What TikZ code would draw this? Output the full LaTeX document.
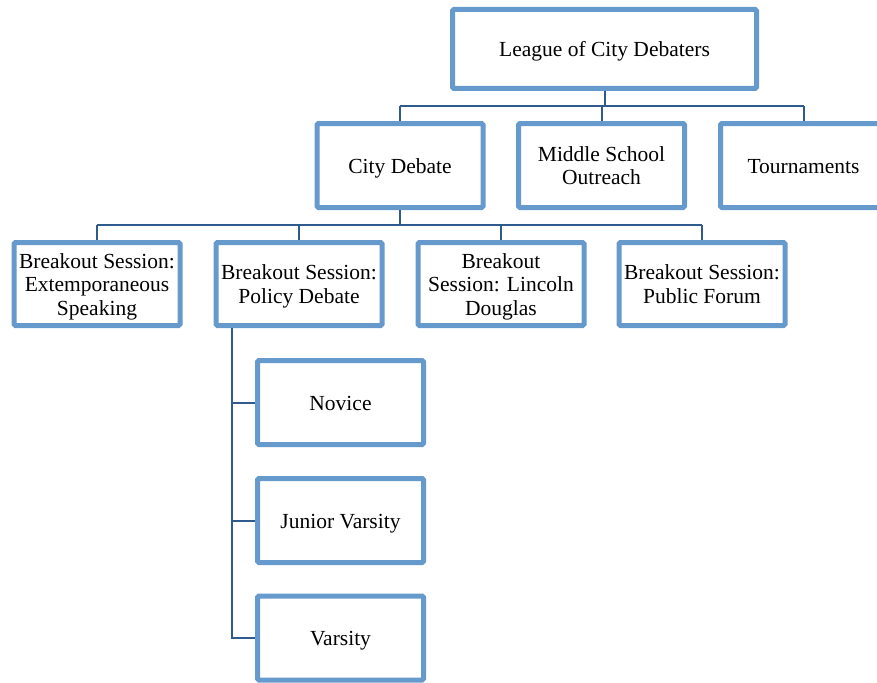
\documentclass[tikz,border=0pt]{standalone}
\usepackage{fontspec}
\setmainfont{Liberation Serif}
\newcommand{\boxtext}[1]{\raisebox{-3pt}[\height][\depth]{\begin{tabular}{@{}c@{}}#1\end{tabular}}}
\begin{document}
\begin{tikzpicture}[x=1pt,y=-1pt,
  box/.style={draw=boxblue,line width=5pt,fill=white,rounded corners=1.5pt,
    minimum width=166pt,minimum height=84pt,inner sep=0pt,
    font=\fontsize{21.5}{23.5}\selectfont},
  link/.style={draw=lineblue,line width=2pt}]
\definecolor{boxblue}{HTML}{6699CC}
\definecolor{lineblue}{HTML}{2E5A8C}
\useasboundingbox (0,0) rectangle (877,682);
\begin{scope}
\clip (0,0) rectangle (877,682);
% top
\node[box,minimum width=304pt,minimum height=79pt] (top) at (604.5,49) {\boxtext{League of City Debaters}};
% row 2
\node[box] (city) at (400,165.5) {\boxtext{City Debate}};
\node[box] (mso) at (601.5,165.5) {\boxtext{Middle School\\Outreach}};
\node[box] (tour) at (803.5,165.5) {\boxtext{Tournaments}};
% row 3
\node[box,minimum height=83pt] (ext) at (97,284) {\boxtext{Breakout Session:\\Extemporaneous\\Speaking}};
\node[box,minimum height=83pt] (pol) at (299,284) {\boxtext{Breakout Session:\\Policy Debate}};
\node[box,minimum height=83pt] (lin) at (501,284) {\boxtext{Breakout\\Session: Lincoln\\Douglas}};
\node[box,minimum height=83pt] (pub) at (702,284) {\boxtext{Breakout Session:\\Public Forum}};
% row 4
\node[box] (nov) at (340.5,402.5) {\boxtext{Novice}};
\node[box] (jv) at (340.5,520.5) {\boxtext{Junior Varsity}};
\node[box] (var) at (340.5,638) {\boxtext{Varsity}};
\coordinate (b1) at (604.5,106.5);
\coordinate (b2) at (400,225);
\coordinate (v) at (232,0);
\path[link] (top.south) -- (b1);
\path[link] (b1 -| city.north) -- (b1 -| tour.north);
\path[link] (b1 -| city.north) -- (city.north);
\path[link] (b1 -| mso.north) -- (mso.north);
\path[link] (b1 -| tour.north) -- (tour.north);
\path[link] (city.south) -- (b2);
\path[link] (b2 -| ext.north) -- (b2 -| pub.north);
\path[link] (b2 -| ext.north) -- (ext.north);
\path[link] (b2 -| pol.north) -- (pol.north);
\path[link] (b2 -| lin.north) -- (lin.north);
\path[link] (b2 -| pub.north) -- (pub.north);
\path[link] (v |- pol.south) -- (v |- var.west) -- (var.west);
\path[link] (v |- nov.west) -- (nov.west);
\path[link] (v |- jv.west) -- (jv.west);
\end{scope}
\end{tikzpicture}
\end{document}
